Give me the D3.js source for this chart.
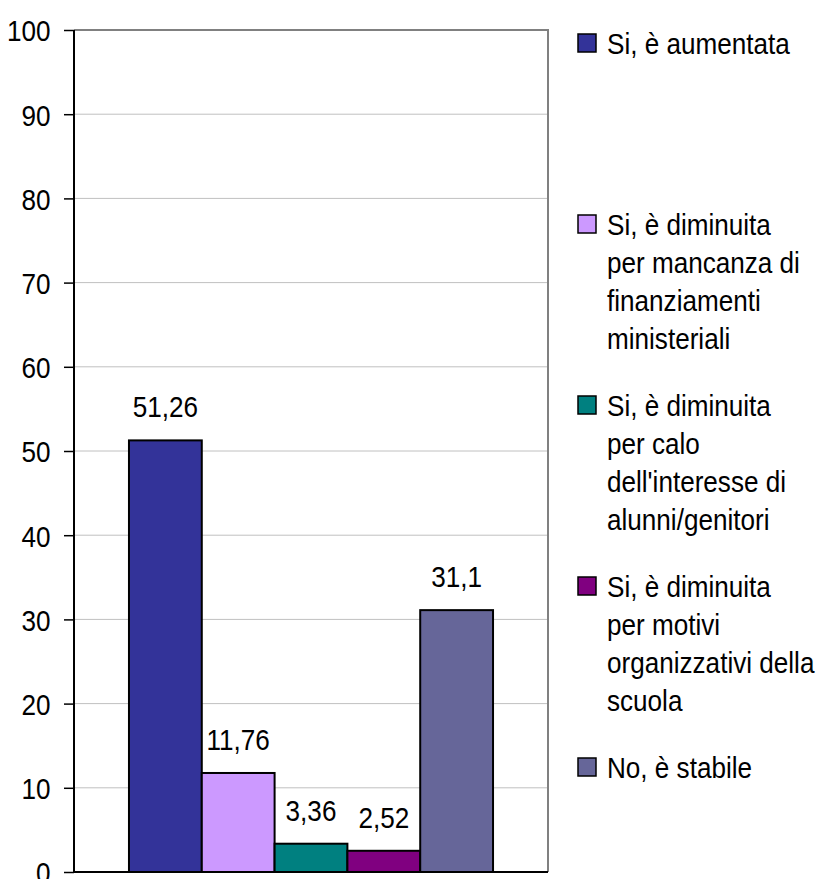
<!DOCTYPE html>
<meta charset="utf-8">
<style>
body { margin: 0; background: #fff; }
text { font-family: "Liberation Sans", Arial, sans-serif; font-size: 30px; fill: #000; }
.grid line { stroke: #c0c0c0; }
</style>
<svg width="825" height="879"></svg>
<script src="https://d3js.org/d3.v7.min.js"></script>
<script>

// data
var series = ["aumentata", "mancanza", "calo", "motivi", "stabile"];
var values = [51.26, 11.76, 3.36, 2.52, 31.1];
var valueLabels = ["51,26", "11,76", "3,36", "2,52", "31,1"];
var legendLines = [
  ["Si, è aumentata"],
  ["Si, è diminuita", "per mancanza di", "finanziamenti", "ministeriali"],
  ["Si, è diminuita", "per calo", "dell'interesse di", "alunni/genitori"],
  ["Si, è diminuita", "per motivi", "organizzativi della", "scuola"],
  ["No, è stabile"]
];
var colors = ["#333399", "#cc99ff", "#008080", "#800080", "#666699"];
var yTicks = [0, 10, 20, 30, 40, 50, 60, 70, 80, 90, 100];

// the original font is a bit condensed
var squeeze = "scale(0.87,1)";

var svg = d3.select("svg");

var margin = {left: 74, right: 277, top: 30, bottom: 7},
    width = 825 - margin.left - margin.right,
    height = 879 - margin.top - margin.bottom;

var g = svg.append("g")
    .attr("transform", "translate(" + margin.left + "," + margin.top + ")");

var y = d3.scaleLinear().domain([0, 100]).range([height, 0]);

var x = d3.scaleBand()
    .domain(series)
    .range([0, width])
    .paddingInner(0)
    .paddingOuter(0.755);

// gridlines
g.append("g")
    .attr("class", "grid")
  .selectAll("line")
  .data(yTicks.slice(1, -1))
  .enter().append("line")
    .attr("x1", 0)
    .attr("x2", width)
    .attr("y1", function(d) { return y(d); })
    .attr("y2", function(d) { return y(d); });

// plot border (top, right)
g.append("path")
    .attr("d", "M0," + y(100) + "H" + width + "V" + y(0))
    .attr("fill", "none")
    .attr("stroke", "#808080")
    .attr("stroke-width", 2);

// bars
g.selectAll(".bar")
  .data(series)
  .enter().append("rect")
    .attr("class", "bar")
    .attr("x", function(d) { return x(d); })
    .attr("width", x.bandwidth())
    .attr("y", function(d, i) { return y(values[i]); })
    .attr("height", function(d, i) { return y(0) - y(values[i]); })
    .attr("fill", function(d, i) { return colors[i]; })
    .attr("stroke", "#000")
    .attr("stroke-width", 2);

// value labels
g.selectAll(".lbl")
  .data(series)
  .enter().append("g")
    .attr("class", "lbl")
    .attr("transform", function(d, i) {
      return "translate(" + (x(d) + x.bandwidth() / 2) + "," + (y(values[i]) - 23) + ")" + squeeze;
    })
  .append("text")
    .attr("text-anchor", "middle")
    .text(function(d, i) { return valueLabels[i]; });

// y axis
var yAxis = g.append("g")
    .call(d3.axisLeft(y).tickValues(yTicks).tickSize(10).tickPadding(17));
yAxis.selectAll("text")
    .attr("dy", "0.36em")
    .attr("transform", squeeze)
    .style("font-size", "30px")
    .style("font-family", "'Liberation Sans', Arial, sans-serif");
yAxis.select(".domain").attr("stroke-width", 2).attr("d", "M0," + y(0) + "V" + y(100));
yAxis.selectAll(".tick line").attr("stroke-width", 1.5);

// x axis line
g.append("line")
    .attr("x1", 0).attr("x2", width)
    .attr("y1", y(0)).attr("y2", y(0))
    .attr("stroke", "#000")
    .attr("stroke-width", 2);

// legend
var legend = svg.append("g")
    .attr("transform", "translate(578,43)");

var item = legend.selectAll("g")
  .data(series)
  .enter().append("g")
    .attr("transform", function(d, i) { return "translate(0," + (i * 181) + ")"; });

item.append("rect")
    .attr("x", 0)
    .attr("y", -9)
    .attr("width", 18)
    .attr("height", 18)
    .attr("fill", function(d, i) { return colors[i]; })
    .attr("stroke", "#000")
    .attr("stroke-width", 1.5);

item.append("g")
    .attr("transform", "translate(29,0)" + squeeze)
  .append("text")
    .selectAll("tspan")
    .data(function(d, i) { return legendLines[i]; })
    .enter().append("tspan")
      .attr("x", 0)
      .attr("y", function(d, j) { return j * 38; })
      .attr("dy", "0.36em")
      .text(function(d) { return d; });

</script>
